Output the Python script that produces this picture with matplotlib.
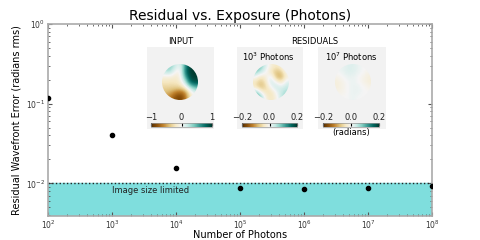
import numpy as np
import matplotlib
matplotlib.use("Agg")
import matplotlib.pyplot as plt
from matplotlib.patches import Circle

# ------------------------------------------------------------
# Data
# ------------------------------------------------------------
photons = [1e2, 1e3, 1e4, 1e5, 1e6, 1e7, 1e8]
residual_rms = [0.117, 0.041, 0.0155, 0.0087, 0.0086, 0.0088, 0.0092]
size_limit = 0.01

# coarse wavefront maps (rows top -> bottom), smoothed by imshow
input_map = [
    [0.30, 0.40, 0.20, 0.00, 0.60, 1.00, 1.00],
    [0.20, 0.30, 0.00, -0.10, 0.70, 1.00, 1.00],
    [-0.10, -0.10, -0.15, -0.10, 0.50, 0.95, 1.00],
    [-0.20, -0.20, -0.20, -0.15, 0.20, 0.80, 0.90],
    [-0.30, -0.30, -0.30, -0.30, -0.10, 0.30, 0.50],
    [-0.40, -0.45, -0.60, -0.70, -0.60, -0.10, 0.10],
    [-0.50, -0.60, -0.80, -0.90, -0.70, -0.20, 0.00],
]
resid_1e3 = [
    [0.12, 0.08, 0.02, -0.02, -0.04, -0.02, 0.04],
    [0.08, 0.04, 0.00, -0.04, -0.08, -0.07, 0.00],
    [0.00, -0.04, -0.02, 0.02, -0.08, -0.10, -0.02],
    [-0.04, -0.08, -0.04, 0.04, 0.00, -0.04, 0.02],
    [-0.04, -0.08, -0.06, 0.00, 0.04, 0.02, 0.04],
    [0.08, 0.00, -0.04, -0.05, 0.00, 0.04, 0.06],
    [0.18, 0.08, -0.02, -0.04, -0.02, 0.04, 0.08],
]
resid_1e7 = [
    [0.01, 0.01, 0.02, 0.02, 0.01, 0.00, 0.00],
    [0.00, 0.01, 0.02, 0.02, 0.01, 0.00, -0.01],
    [-0.01, 0.00, 0.01, 0.01, 0.00, -0.01, -0.02],
    [-0.02, -0.01, 0.00, 0.01, 0.00, -0.01, -0.02],
    [-0.02, -0.01, 0.00, 0.01, 0.01, 0.00, -0.01],
    [-0.01, -0.01, 0.00, 0.01, 0.01, 0.00, 0.00],
    [0.00, 0.00, 0.00, 0.01, 0.00, 0.00, 0.00],
]

plt.rcParams["font.family"] = "DejaVu Sans"
fig = plt.figure(figsize=(4.8, 2.4), dpi=100)

# ------------------------------------------------------------
# Main axes
# ------------------------------------------------------------
ax = fig.add_axes([0.1, 0.1, 0.8, 0.8])
ax.set_xscale("log")
ax.set_yscale("log")
ax.set_xlim(1e2, 1e8)
ax.set_ylim(3.9e-3, 1.0)

ax.axhspan(3.9e-3, size_limit, color="#7fdedd", zorder=1)
ax.axhline(size_limit, color="#222222", ls=":", lw=1.0, zorder=2)
ax.text(1e3, size_limit * 0.94, "Image size limited", fontsize=6,
        ha="left", va="top", color="#222222", zorder=3)

ax.plot(photons, residual_rms, "o", color="black", ms=3, zorder=4)

ax.set_title("Residual vs. Exposure (Photons)", fontsize=10, pad=3)
ax.set_xlabel("Number of Photons", fontsize=7)
ax.set_ylabel("Residual Wavefront Error (radians rms)", fontsize=7)
ax.xaxis.set_label_coords(0.5, -0.072)
ax.yaxis.set_label_coords(-0.068, 0.5)
ax.tick_params(which="both", direction="in", top=True, right=True,
               labelsize=5.5, colors="#555555", labelcolor="#333333", pad=2)
ax.tick_params(which="major", length=3)
ax.tick_params(which="minor", length=1.5)
for sp in ax.spines.values():
    sp.set_color("#aaaaaa")
    sp.set_linewidth(1.2)

# ------------------------------------------------------------
# Insets
# ------------------------------------------------------------
W, H = 480.0, 240.0


def fig_rect(x0, y0, x1, y1):
    return [x0 / W, 1 - y1 / H, (x1 - x0) / W, (y1 - y0) / H]


def inset(box, cx, cbar_x, data, vmin, vmax, ticks):
    bg = fig.add_axes(fig_rect(*box))
    bg.set_facecolor("#f2f2f2")
    bg.set_xticks([])
    bg.set_yticks([])
    for sp in bg.spines.values():
        sp.set_visible(False)

    iax = fig.add_axes(fig_rect(cx - 18, 64, cx + 18, 100))
    im = iax.imshow(np.array(data), cmap="BrBG", vmin=vmin, vmax=vmax,
                    extent=[-1, 1, -1, 1], interpolation="bicubic")
    im.set_clip_path(Circle((0, 0), 1, transform=iax.transData))
    iax.axis("off")

    cax = fig.add_axes(fig_rect(cbar_x[0], 123, cbar_x[1], 127))
    cb = fig.colorbar(im, cax=cax, orientation="horizontal", ticks=ticks)
    cax.xaxis.set_ticks_position("top")
    cax.tick_params(labelsize=6, length=2, pad=1, direction="in",
                    labelcolor="#222222")
    cb.outline.set_edgecolor("#999999")
    cb.outline.set_linewidth(0.5)
    return cax


inset((147, 47, 214, 129), 180, (151, 212), input_map, -1, 1, [-1, 0, 1])
inset((237, 47, 303, 129), 271, (242, 297), resid_1e3, -0.2, 0.2,
      [-0.2, 0.0, 0.2])
cax2 = inset((318, 47, 386, 129), 353, (323, 379), resid_1e7, -0.2, 0.2,
             [-0.2, 0.0, 0.2])
cax2.set_xlabel("(radians)", fontsize=6, labelpad=1)

fig.text(181 / W, 1 - 42 / H, "INPUT", fontsize=6, ha="center", va="center")
fig.text(315 / W, 1 - 42 / H, "RESIDUALS", fontsize=6, ha="center", va="center")
fig.text(242 / W, 1 - 57 / H, r"$10^3$ Photons", fontsize=6, ha="left", va="center")
fig.text(325 / W, 1 - 57 / H, r"$10^7$ Photons", fontsize=6, ha="left", va="center")

fig.savefig("out.png", dpi=100)
